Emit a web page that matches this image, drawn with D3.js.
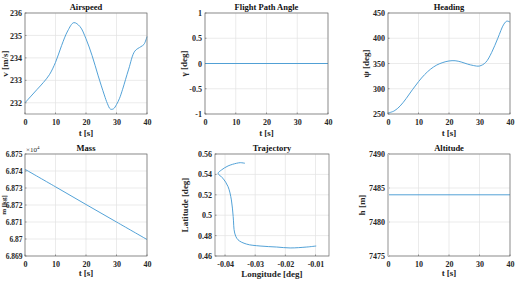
<!DOCTYPE html>
<html><head><meta charset="utf-8">
<script src="https://cdn.jsdelivr.net/npm/d3@7"></script>
<style>
body{margin:0;background:#fff;}
svg{display:block;font-family:"Liberation Serif","Times New Roman",serif;}
</style></head><body>
<svg id="c" width="515" height="287"></svg>
<script>
// ---- data ----
const timeTicks = [0,10,20,30,40];
const airT = [0,2,4,6,8,10,12,14,16,18,20,22,24,26,27,28,29,30,31,32,34,36,38,39,40];
const airV = [232.0,232.3,232.6,232.9,233.25,233.8,234.55,235.2,235.57,235.4,234.85,234.1,233.2,232.35,231.97,231.72,231.73,231.92,232.2,232.6,233.5,234.3,234.5,234.6,234.95];
const airTicks = [232,233,234,235,236];

const fpaT = [0,40];
const fpaV = [0,0];
const fpaTicks = [-1,-0.5,0,0.5,1];

const hdgT = [0,2,4,6,8,10,12,14,16,18,20,22,24,26,28,30,32,34,36,38,39,40];
const hdgV = [252,256,266,281,298,314,328,339,347,352,355,355.5,353,349,346,345,352,372,400,428,434,432];
const hdgTicks = [250,300,350,400,450];

const massT = [0,10,20,30,40];
const massV = [6.8741,6.87307,6.87203,6.87100,6.86997]; // x10^4 kg
const massTicks = [6.869,6.87,6.871,6.872,6.873,6.874,6.875];

const trajLon = [-0.00977,-0.0129,-0.0184,-0.0229,-0.0284,-0.0329,-0.0357,-0.0368,-0.0373,-0.0379,-0.0390,-0.0407,-0.0423,-0.0412,-0.0390,-0.0362,-0.0349,-0.0334];
const trajLat = [0.4698,0.4688,0.4679,0.4688,0.4698,0.4717,0.4759,0.4825,0.4987,0.5150,0.5280,0.5362,0.5410,0.5443,0.5483,0.5509,0.5515,0.5509];
const lonTicks = [-0.04,-0.03,-0.02,-0.01];
const latTicks = [0.46,0.48,0.5,0.52,0.54,0.56];

const altT = [0,40];
const altV = [7484,7484];
const altTicks = [7475,7480,7485,7490];

// ---- drawing ----
const svg = d3.select("#c");
const lineColor = "#3f97d2";
const textColor = "#262626";

function panel(o){
  const g = svg.append("g");
  const x = d3.scaleLinear().domain(o.xd).range([o.l,o.r]);
  const y = d3.scaleLinear().domain(o.yd).range([o.b,o.t]);
  g.selectAll(".gx").data(o.xt).enter().append("line")
    .attr("x1",d=>x(d)).attr("x2",d=>x(d)).attr("y1",o.t).attr("y2",o.b)
    .attr("stroke","#e3e3e3").attr("stroke-width",0.7);
  g.selectAll(".gy").data(o.yt).enter().append("line")
    .attr("y1",d=>y(d)).attr("y2",d=>y(d)).attr("x1",o.l).attr("x2",o.r)
    .attr("stroke","#e3e3e3").attr("stroke-width",0.7);
  const xa = d3.axisBottom(x).tickValues(o.xt).tickFormat(o.xf||(d=>d)).tickSize(0).tickPadding(5);
  const ya = d3.axisLeft(y).tickValues(o.yt).tickFormat(o.yf||(d=>d)).tickSize(0).tickPadding(o.yPad||3);
  const gx = g.append("g").attr("transform",`translate(0,${o.b})`).call(xa);
  const gy = g.append("g").attr("transform",`translate(${o.l},0)`).call(ya);
  [gx,gy].forEach(a=>{
    a.select(".domain").remove();
    a.selectAll(".tick line").remove();
    a.selectAll("text").attr("font-size",8).attr("fill",textColor)
      .attr("font-family","Liberation Serif").attr("font-weight","bold");
  });
  if(o.yFont) gy.selectAll("text").attr("font-size",o.yFont);
  g.selectAll(".tx").data(o.xt).enter().append("line")
    .attr("x1",d=>x(d)).attr("x2",d=>x(d)).attr("y1",o.b).attr("y2",o.b-1.5)
    .attr("stroke","#555").attr("stroke-width",0.6);
  g.selectAll(".ty").data(o.yt).enter().append("line")
    .attr("y1",d=>y(d)).attr("y2",d=>y(d)).attr("x1",o.l).attr("x2",o.l+1.5)
    .attr("stroke","#555").attr("stroke-width",0.6);
  const pts = o.xs.map((v,i)=>[v,o.ys[i]]);
  g.append("path").datum(pts)
    .attr("d",d3.line().x(d=>x(d[0])).y(d=>y(d[1])).curve(d3.curveCatmullRom.alpha(0.5)))
    .attr("fill","none").attr("stroke",lineColor).attr("stroke-width",0.9);
  g.append("rect").attr("x",o.l).attr("y",o.t).attr("width",o.r-o.l).attr("height",o.b-o.t)
    .attr("fill","none").attr("stroke","#6a6a6a").attr("stroke-width",0.7);
  if(o.leftBar){
    g.append("line").attr("x1",o.l).attr("x2",o.l).attr("y1",o.t).attr("y2",o.b)
      .attr("stroke","#c8c8c8").attr("stroke-width",2);
  }
  g.append("text").attr("x",(o.l+o.r)/2).attr("y",o.t-3.5).attr("text-anchor","middle")
    .attr("font-size",8.5).attr("font-weight","bold").attr("fill","#111").text(o.title);
  g.append("text").attr("x",(o.l+o.r)/2).attr("y",o.b+o.xlOff).attr("text-anchor","middle")
    .attr("font-size",o.xlSize||9).attr("font-weight","bold").attr("fill",textColor).text(o.xl);
  g.append("text").attr("transform",`translate(${o.ylx},${(o.t+o.b)/2}) rotate(-90)`)
    .attr("text-anchor","middle").attr("font-size",o.ylSize||9).attr("font-weight","bold").attr("fill",textColor).text(o.yl);
  return {g,x,y};
}

const rowTop = {t:13,b:114}, rowBot = {t:154,b:256};

panel({l:25,r:147,...rowTop,xd:[0,40],yd:[231.5,236],xt:timeTicks,yt:airTicks,xs:airT,ys:airV,
  title:"Airspeed",xl:"t [s]",yl:"v [m/s]",ylx:8,xlOff:22});
panel({l:205,r:328,...rowTop,xd:[0,40],yd:[-1,1],xt:timeTicks,yt:fpaTicks,xs:fpaT,ys:fpaV,
  title:"Flight Path Angle",xl:"t [s]",yl:"γ [deg]",ylx:187,xlOff:22});
panel({l:388,r:510,...rowTop,xd:[0,40],yd:[250,450],xt:timeTicks,yt:hdgTicks,xs:hdgT,ys:hdgV,
  title:"Heading",xl:"t [s]",yl:"ψ [deg]",ylx:369,xlOff:22});
const pm = panel({l:25,r:147,...rowBot,xd:[0,40],yd:[6.869,6.875],xt:timeTicks,yt:massTicks,xs:massT,ys:massV,
  title:"Mass",xl:"t [s]",yl:"m [kg]",ylx:5.5,ylSize:7,yFont:7.5,yPad:2.5,xlOff:20});
const ex = pm.g.append("text").attr("x",26).attr("y",152).attr("font-size",7).attr("fill",textColor);
ex.append("tspan").text("×10");
ex.append("tspan").attr("dy",-3).attr("font-size",5).text("4");

panel({l:215,r:329,...rowBot,xd:[-0.04333,-0.00553],yd:[0.46,0.56],xt:lonTicks,yt:latTicks,xs:trajLon,ys:trajLat,
  title:"Trajectory",xl:"Longitude [deg]",yl:"Latitude [deg]",ylx:188,xlOff:21,xf:d=>d});
panel({l:388,r:510,...rowBot,xd:[0,40],yd:[7475,7490],xt:timeTicks,yt:altTicks,xs:altT,ys:altV,
  title:"Altitude",xl:"t [s]",yl:"h [m]",ylx:365,xlOff:20,leftBar:true});
</script>
</body></html>
